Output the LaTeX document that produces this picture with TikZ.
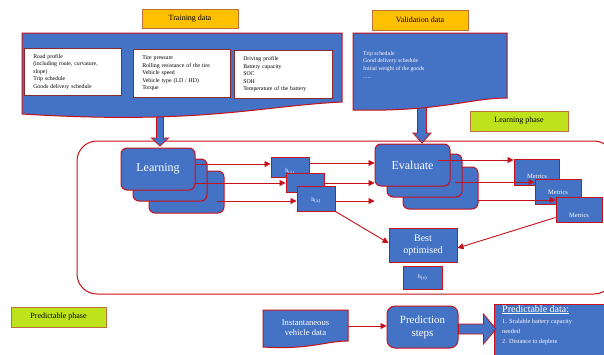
\documentclass[tikz,border=0pt]{standalone}
\usepackage{fontspec}
\setmainfont{Liberation Serif}
\usetikzlibrary{arrows.meta,calc}
\definecolor{bblue}{HTML}{4472C4}
\definecolor{bred}{HTML}{C8101A}
\definecolor{borange}{HTML}{FFC000}
\definecolor{bgreen}{HTML}{BEE31C}
\definecolor{tagline}{HTML}{C0703A}
\definecolor{wline}{HTML}{8A2A2A}
\begin{document}
\begin{tikzpicture}[x=1pt,y=-1pt,
  blk/.style={draw=bred, fill=bblue, line width=1pt, text=white, align=center, inner sep=0pt},
  rblk/.style={blk, rounded corners=6pt},
  docshape/.style={draw=bred, fill=bblue, line width=1pt},
  tag/.style={draw=tagline, line width=0.6pt, inner sep=0pt, align=center, font=\fontsize{8}{9}\selectfont},
  wbox/.style={draw=wline, fill=white, line width=0.6pt, align=left, inner xsep=9pt, inner ysep=0pt, anchor=north west, font=\fontsize{5.8}{7.5}\selectfont},
  wtxt/.style={text=white, align=left, inner sep=0pt, anchor=north west},
  lbltxt/.style={text=white, inner sep=0pt},
  arr/.style={draw=bred, line width=0.9pt, -{Triangle[length=6pt,width=6pt]}},
  fatarrow/.style={draw=bred, fill=bblue, line width=0.8pt}
]
\clip (0,0) rectangle (604,354);
\fill[white] (0,0) rectangle (604,354);

% big learning frame
\draw[draw=bred, line width=1pt, rounded corners=20pt] (77,141) rectangle (614,294);

% thick arrows from data documents
\coordinate (tdb) at (160,112);
\coordinate (vdb) at (422,105);
\draw[fatarrow] ($(tdb)+(-3.5,0)$) -- ($(tdb)+(-3.5,26)$) -- ($(tdb)+(-8.5,26)$) -- ($(tdb)+(0,34)$)
  -- ($(tdb)+(8.5,26)$) -- ($(tdb)+(3.5,26)$) -- ($(tdb)+(3.5,0)$) -- cycle;
\draw[fatarrow] ($(vdb)+(-4.5,0)$) -- ($(vdb)+(-4.5,28)$) -- ($(vdb)+(-9,28)$) -- ($(vdb)+(0,38)$)
  -- ($(vdb)+(9,28)$) -- ($(vdb)+(4.5,28)$) -- ($(vdb)+(4.5,0)$) -- cycle;

% training data document
\draw[docshape] (22,33) -- (342,33) -- (342,102) .. controls (260,106) and (200,125) .. (22,114) -- cycle;
\node[wbox, text width=79pt, minimum height=47pt] (tb1) at (24,48)
  {Road profile\\(including route, curvature,\\slope)\\Trip schedule\\Goods delivery schedule};
\node[wbox, text width=79pt, minimum height=48pt] (tb2) at (133,49)
  {Tire pressure\\Rolling resistance of the tire\\Vehicle speed\\Vehicle type (LD / HD)\\Torque};
\node[wbox, text width=80pt, minimum height=48pt] (tb3) at (234,50)
  {Driving profile\\Battery capacity\\SOC\\SOH\\Temperature of the battery};

% validation data document
\draw[docshape] (353,33) -- (507,33) -- (507,98) .. controls (470,98) and (440,112) .. (353,110) -- cycle;
\node[wtxt, font=\fontsize{5.8}{7.6}\selectfont] (vtxt) at (363,51)
  {Trip schedule\\Good delivery schedule\\Initial weight of the goods\\......};

% tags
\node[tag, fill=borange, minimum width=96pt, minimum height=19pt] (ttag) at (190,18.5) {Training data};
\node[tag, fill=borange, minimum width=96pt, minimum height=20pt] (vtag) at (420,20) {Validation data};
\node[tag, fill=bgreen, minimum width=98pt, minimum height=20pt] (ltag) at (519,121) {Learning phase};
\node[tag, fill=bgreen, minimum width=95pt, minimum height=20pt] (ptag) at (58.5,317) {Predictable phase};

% learning stack
\node[rblk, minimum width=75pt, minimum height=42pt] (L3) at (186.5,192) {};
\node[rblk, minimum width=74pt, minimum height=42pt] (L2) at (170,180) {};
\node[rblk, minimum width=74pt, minimum height=42pt, font=\fontsize{12}{13}\selectfont] (L1) at (158,169) {Learning};

% hypothesis boxes
\node[blk, minimum width=38pt, minimum height=20pt] (h1) at (290,167) {};
\node[lbltxt, font=\fontsize{6}{7}\selectfont] (h1t) at (290,172) {h\textsubscript{(x)}};
\node[blk, minimum width=38pt, minimum height=19pt] (h2) at (305,182.5) {};
\node[lbltxt, font=\fontsize{6}{7}\selectfont] (h2t) at (306,191) {h\textsubscript{(x)}};
\node[blk, minimum width=38pt, minimum height=25pt] (h3) at (316,198.5) {};
\node[lbltxt, font=\fontsize{6}{7}\selectfont] (h3t) at (316,200.5) {h\textsubscript{(x)}};

% evaluate stack
\node[rblk, minimum width=75pt, minimum height=42pt] (E3) at (440.5,188) {};
\node[rblk, minimum width=75pt, minimum height=43pt] (E2) at (424.5,175.5) {};
\node[rblk, minimum width=75pt, minimum height=42pt, font=\fontsize{12}{13}\selectfont] (E1) at (412.5,165) {Evaluate};

% metrics
\node[blk, minimum width=45pt, minimum height=26pt] (M1) at (536.5,172) {};
\node[lbltxt, font=\fontsize{6.5}{7}\selectfont] (M1t) at (537,176.5) {Metrics};
\node[blk, minimum width=46pt, minimum height=25pt] (M2) at (558,191.5) {};
\node[lbltxt, font=\fontsize{6.5}{7}\selectfont] (M2t) at (558,192) {Metrics};
\node[blk, minimum width=46pt, minimum height=25pt] (M3) at (579,209.5) {};
\node[lbltxt, font=\fontsize{6.5}{7}\selectfont] (M3t) at (579,215) {Metrics};

% best optimised
\node[blk, minimum width=68pt, minimum height=34pt, font=\fontsize{10}{12}\selectfont] (B) at (423,245) {Best\\optimised};
\node[blk, minimum width=39pt, minimum height=23pt, font=\fontsize{6}{7}\selectfont] (hb) at (422.5,277.5) {h\textsubscript{(x)}};

% arrows learning -> h
\coordinate (a1s) at (195,164);
\coordinate (a2s) at (195,183);
\coordinate (a3s) at (217,201);
\draw[arr] (a1s) -- (a1s -| h1.west);
\draw[arr] (a2s) -- (a2s -| h2.west);
\draw[arr] (a3s) -- (a3s -| h3.west);

% arrows h -> evaluate
\coordinate (b1s) at (h1.east |- 0,163);
\coordinate (b2s) at (h2.east |- 0,183);
\coordinate (b3s) at (h3.east |- 0,201);
\draw[arr] (b1s) -- (b1s -| E1.west);
\draw[arr] (b2s) -- (b2s -| E1.west);
\draw[arr] (b3s) -- (b3s -| E1.west);

% arrows evaluate -> metrics
\coordinate (c1s) at (438,160);
\coordinate (c2s) at (455,182);
\coordinate (c3s) at (478,200);
\draw[arr] (c1s) -- (c1s -| M1.west);
\draw[arr] (c2s) -- (c2s -| M2.west);
\draw[arr] (c3s) -- (c3s -| M3.west);

% arrows to best optimised
\draw[arr] (h3.south east) -- ($(B.west)+(0,-2)$);
\draw[arr] ($(M3.west)+(0,8)$) -- ($(B.east)+(0,3)$);

% prediction row
\draw[docshape] (263,310) -- (348,310) -- (348,341) .. controls (325,341) and (310,350) .. (263,347) -- cycle;
\coordinate (ivd) at (348,326);
\node[lbltxt, align=center, font=\fontsize{8.6}{10.4}\selectfont] (ivt) at (305.5,327.5) {Instantaneous\\vehicle data};
\node[rblk, rounded corners=8pt, minimum width=71pt, minimum height=42pt, font=\fontsize{11}{13}\selectfont] (P) at (422.5,327) {Prediction\\steps};
\draw[arr] (ivd) -- (ivd -| P.west);

\node[blk, anchor=north west, minimum width=130pt, minimum height=60pt] (PD) at (494,304) {};
\draw[fatarrow] ($(P.east)+(0,-3)$) -- ($(P.east)+(25,-3)$) -- ($(P.east)+(25,-13)$) -- ($(PD.west |- P.east)+(2,2)$)
  -- ($(P.east)+(25,17)$) -- ($(P.east)+(25,7)$) -- ($(P.east)+(0,7)$) -- cycle;
\node[wtxt] (PDt) at (502,305) {{\fontsize{10}{11}\selectfont\underline{Predictable data:}}\\[-1pt]
  {\fontsize{6.3}{8}\selectfont 1. Scalable battery capacity}\\[-2pt]
  {\fontsize{6.3}{8}\selectfont needed}\\[-2pt]
  {\fontsize{6.3}{8}\selectfont 2. Distance to deplete}};
\end{tikzpicture}
\end{document}
